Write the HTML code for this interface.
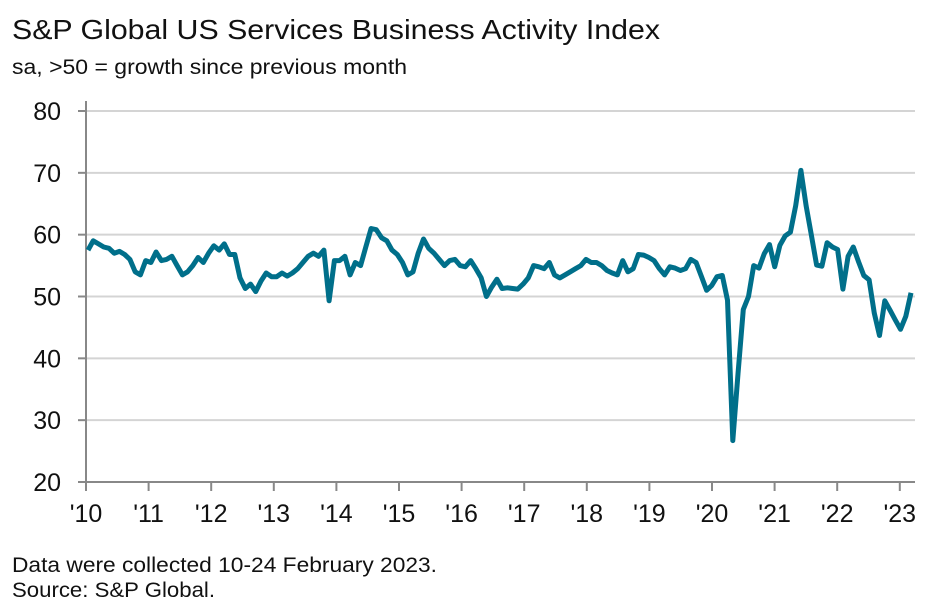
<!DOCTYPE html>
<html><head><meta charset="utf-8"><style>
body{margin:0;background:#fff;font-family:"Liberation Sans",sans-serif;}
svg{display:block}
</style></head><body>
<svg width="945" height="610">
<text x="12" y="39" font-size="28" textLength="648" lengthAdjust="spacingAndGlyphs" fill="#111">S&amp;P Global US Services Business Activity Index</text>
<text x="12" y="74" font-size="21" textLength="395" lengthAdjust="spacingAndGlyphs" fill="#111">sa, &gt;50 = growth since previous month</text>
<g id="grid"></g><g id="axes"></g><g id="series"></g>
<text x="12" y="572" font-size="21" textLength="425" lengthAdjust="spacingAndGlyphs" fill="#111">Data were collected 10-24 February 2023.</text>
<text x="12" y="597" font-size="21" textLength="203" lengthAdjust="spacingAndGlyphs" fill="#111">Source: S&amp;P Global.</text>
</svg>
<script>
const yTicks=[20,30,40,50,60,70,80];
const xLabels=["'10","'11","'12","'13","'14","'15","'16","'17","'18","'19","'20","'21","'22","'23"];
const values=[
57.5,59,58.5,58,57.8,57,57.3,56.8,56,54,53.5,55.8,
55.5,57.2,55.8,56,56.5,55,53.5,54,55,56.3,55.5,57,
58.2,57.5,58.5,56.8,56.8,53,51.3,52,50.8,52.5,53.8,53.2,
53.2,53.8,53.3,53.8,54.5,55.5,56.5,57,56.5,57.5,49.3,55.8,
55.8,56.5,53.5,55.5,55,58,61,60.8,59.5,59,57.5,56.8,
55.5,53.5,54,57,59.3,57.8,57,56,55,55.8,56,55,
54.8,55.8,54.5,53,50,51.5,52.8,51.3,51.4,51.3,51.2,52,
53,55,54.8,54.5,55.5,53.5,53,53.5,54,54.5,55,56,
55.5,55.5,55,54.2,53.8,53.5,55.8,54,54.5,56.8,56.7,56.3,
55.8,54.5,53.5,54.8,54.6,54.2,54.5,56,55.5,53.3,51,51.8,
53.2,53.4,49.4,26.7,37.5,47.9,50,55,54.6,56.9,58.4,54.8,
58.3,59.8,60.4,64.7,70.4,64.6,59.9,55.1,54.9,58.7,58,57.6,
51.2,56.5,58,55.6,53.4,52.7,47.3,43.7,49.3,47.8,46.2,44.7,
46.8,50.6];
const NS="http://www.w3.org/2000/svg";
const X0=86,X1=915,YB=482,YT=111,YEAR=62.6;
function y(v){return YB-(v-20)/60*(YB-YT);}
function xm(i){return 88+i*(911-88)/(values.length-1);}
function xy(k){return X0+k*YEAR;}
function mk(t,a,p){const e=document.createElementNS(NS,t);for(const k in a)e.setAttribute(k,a[k]);p.appendChild(e);return e;}
const grid=document.getElementById('grid'),axes=document.getElementById('axes'),ser=document.getElementById('series');
yTicks.forEach(v=>{
  if(v>20){const l=mk('line',{x1:X0,x2:X1,y1:y(v),y2:y(v),stroke:'#d4d4d4','stroke-width':2},grid);
  
  }
  const t=mk('line',{x1:78,x2:X0,y1:y(v),y2:y(v),stroke:'#888','stroke-width':2},axes);
  
  
  const tx=mk('text',{x:61,y:y(v)+9,'font-size':25,'text-anchor':'end',fill:'#111'},axes);tx.textContent=v;
  
  
});
const ya=mk('line',{x1:X0,x2:X0,y1:YT-10,y2:YB,stroke:'#888','stroke-width':2},axes);


const xa=mk('line',{x1:X0-8,x2:X1,y1:YB,y2:YB,stroke:'#888','stroke-width':2},axes);


xLabels.forEach((s,k)=>{
  const t=mk('line',{x1:xy(k),x2:xy(k),y1:YB,y2:YB+9,stroke:'#888','stroke-width':2},axes);
  
  
  const tx=mk('text',{x:xy(k),y:522,'font-size':25,'text-anchor':'middle',fill:'#111'},axes);tx.textContent=s;
  
  
});
const pts=values.map((v,i)=>xm(i).toFixed(1)+','+y(v).toFixed(1)).join(' ');
const pl=mk('polyline',{points:pts,fill:'none',stroke:'#006f8a','stroke-width':5,'stroke-linejoin':'round'},ser);


</script>
</body></html>
